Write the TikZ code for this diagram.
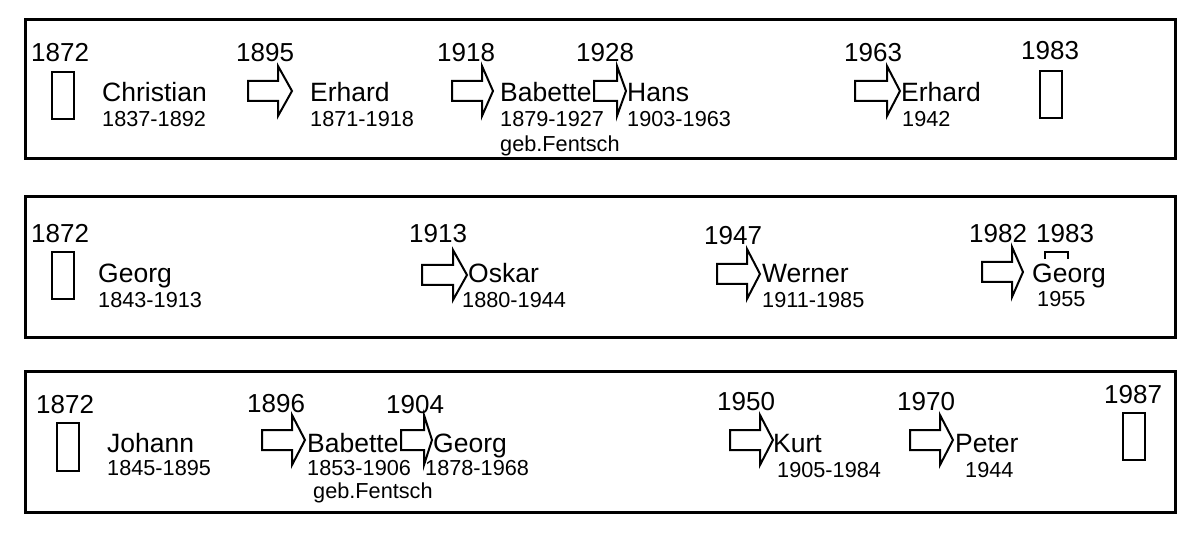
\documentclass[tikz,border=0pt]{standalone}
\usepackage{fontspec}
\setmainfont{Liberation Sans}
\tikzset{
  yr/.style={anchor=base west, inner sep=0pt, font=\fontsize{26bp}{30bp}\selectfont},
  nm/.style={anchor=base west, inner sep=0pt, font=\fontsize{26.5bp}{30bp}\selectfont},
  dt/.style={anchor=base west, inner sep=0pt, font=\fontsize{21.7bp}{26bp}\selectfont},
  frame/.style={draw=black, line width=3bp},
  slot/.style={draw=black, line width=2.5bp},
  arr/.style={draw=black, line width=2bp, line join=miter, fill=white},
  brk/.style={draw=black, line width=2.5bp}
}
\newcommand\farrow[4]{%
  \draw[arr] (#1,#2-10) -- (#3,#2-10) -- (#3,#2-25) -- (#4,#2) -- (#3,#2+25) -- (#3,#2+10) -- (#1,#2+10) -- cycle;}
\begin{document}
\begin{tikzpicture}[x=1bp,y=-1bp]
\useasboundingbox (0,0) rectangle (1200,559);
% frames
\draw[frame] (25,20) rectangle (1175,159);
\draw[frame] (25,197) rectangle (1175,338);
\draw[frame] (25,372) rectangle (1175,512);

% ---------- row 1 ----------
\node[yr] (y11) at (31,62) {1872};
\draw[slot] (52,72) rectangle (74,119);
\node[nm] (n11) at (102,102) {Christian};
\node[dt] (d11) at (102,127) {1837-1892};

\node[yr] (y12) at (236,62) {1895};
\farrow{248}{91}{278}{292}
\node[nm] (n12) at (310,102) {Erhard};
\node[dt] (d12) at (310,127) {1871-1918};

\node[yr] (y13) at (437,62) {1918};
\farrow{452}{91}{482}{493}
\node[nm] (n13) at (500,102) {Babette};
\node[dt] (d13) at (500,127) {1879-1927};
\node[dt] (g13) at (500,152) {geb.Fentsch};

\node[yr] (y14) at (576,62) {1928};
\farrow{594}{91}{617}{626}
\node[nm] (n14) at (627,102) {Hans};
\node[dt] (d14) at (627,127) {1903-1963};

\node[yr] (y15) at (844,62) {1963};
\farrow{855}{91}{887}{900}
\node[nm] (n15) at (901,102) {Erhard};
\node[dt] (d15) at (902,127) {1942};

\node[yr] (y16) at (1021,60) {1983};
\draw[slot] (1040,71) rectangle (1062,118);

% ---------- row 2 ----------
\node[yr] (y21) at (31,243) {1872};
\draw[slot] (52,252) rectangle (74,299);
\node[nm] (n21) at (98,283) {Georg};
\node[dt] (d21) at (98,308) {1843-1913};

\node[yr] (y22) at (409,243) {1913};
\farrow{422}{275}{453}{467}
\node[nm] (n22) at (468,283) {Oskar};
\node[dt] (d22) at (462,308) {1880-1944};

\node[yr] (y23) at (704,245) {1947};
\farrow{717}{274}{747}{760}
\node[nm] (n23) at (762,283) {Werner};
\node[dt] (d23) at (762,308) {1911-1985};

\node[yr] (y24) at (969,243) {1982};
\node[yr] (y25) at (1036,243) {1983};
\draw[brk] (1045,259) -- (1045,252) -- (1068,252) -- (1068,259);
\farrow{982}{272}{1012}{1023}
\node[nm] (n24) at (1032,283) {Georg};
\node[dt] (d24) at (1037,307) {1955};

% ---------- row 3 ----------
\node[yr] (y31) at (36,413) {1872};
\draw[slot] (57,423) rectangle (79,471);
\node[nm] (n31) at (107,452) {Johann};
\node[dt] (d31) at (107,475) {1845-1895};

\node[yr] (y32) at (247,412) {1896};
\farrow{262}{440}{292}{305}
\node[nm] (n32) at (307,452) {Babette};
\node[dt] (d32) at (307,475) {1853-1906};
\node[dt] (g32) at (313,498) {geb.Fentsch};

\node[yr] (y33) at (386,413) {1904};
\farrow{401}{440}{424}{432}
\node[nm] (n33) at (433,452) {Georg};
\node[dt] (d33) at (425,475) {1878-1968};

\node[yr] (y34) at (717,410) {1950};
\farrow{730}{440}{760}{773}
\node[nm] (n34) at (773,452) {Kurt};
\node[dt] (d34) at (777,477) {1905-1984};

\node[yr] (y35) at (897,410) {1970};
\farrow{910}{440}{940}{953}
\node[nm] (n35) at (955,452) {Peter};
\node[dt] (d35) at (965,477) {1944};

\node[yr] (y36) at (1104,403) {1987};
\draw[slot] (1123,413) rectangle (1145,460);
\end{tikzpicture}
\end{document}
